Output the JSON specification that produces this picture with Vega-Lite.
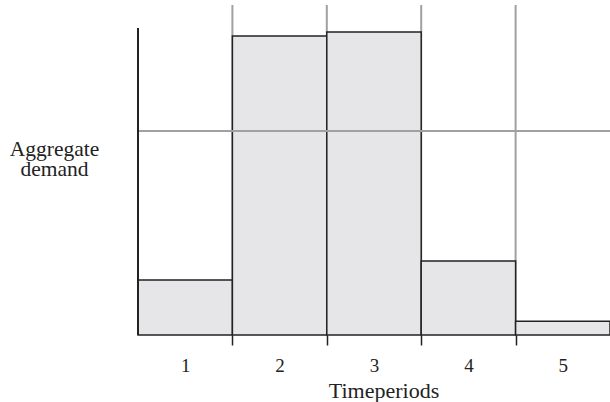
{
  "$schema": "https://vega.github.io/schema/vega-lite/v6.json",
  "width": 472,
  "height": 330,
  "autosize": "none",
  "padding": {"left": 138, "top": 5, "right": 0, "bottom": 67},
  "background": "white",
  "config": {
    "view": {"stroke": null},
    "font": "Liberation Serif",
    "axis": {"grid": false, "labelFont": "Liberation Serif", "titleFont": "Liberation Serif", "titleFontWeight": "normal", "labelColor": "#222", "titleColor": "#222"}
  },
  "datasets": {
    "bars": [
      {"period": "1", "start": 0, "end": 1, "demand": 16.7},
      {"period": "2", "start": 1, "end": 2, "demand": 90.6},
      {"period": "3", "start": 2, "end": 3, "demand": 91.8},
      {"period": "4", "start": 3, "end": 4, "demand": 22.4},
      {"period": "5", "start": 4, "end": 5, "demand": 4.2}
    ],
    "bounds": [{"b": 1}, {"b": 2}, {"b": 3}, {"b": 4}],
    "ref": [{"level": 61.8, "axisX": 0, "axisBottom": 0, "axisTop": 93}]
  },
  "layer": [
    {
      "data": {"name": "bounds"},
      "mark": {"type": "rule", "color": "#a0a0a2", "strokeWidth": 2},
      "encoding": {
        "x": {"field": "b", "type": "quantitative", "scale": {"domain": [0, 5], "nice": false, "zero": false},
              "axis": {"orient": "bottom", "values": [1, 2, 3, 4], "labels": false, "domain": false, "tickSize": 10, "tickColor": "#222", "tickWidth": 1.5, "title": null}},
        "y": {"datum": 0, "type": "quantitative", "scale": {"domain": [0, 100], "nice": false}},
        "y2": {"datum": 100}
      }
    },
    {
      "data": {"name": "bars"},
      "mark": {"type": "rect", "fill": "#e6e6e8", "stroke": "#222", "strokeWidth": 1.5},
      "encoding": {
        "x": {"field": "start", "type": "quantitative",
              "axis": {"orient": "bottom", "values": [0.5, 1.5, 2.5, 3.5, 4.5], "labelExpr": "datum.value + 0.5", "ticks": false, "domain": false,
                       "labelFontSize": 19, "labelBaseline": "alphabetic", "labelPadding": 36,
                       "title": "Timeperiods", "titleFontSize": 22, "titleBaseline": "alphabetic", "titleY": 62, "titleX": 245.5}},
        "x2": {"field": "end"},
        "y": {"field": "demand", "type": "quantitative",
              "axis": {"domain": false, "ticks": false, "labels": false, "title": ["Aggregate", "demand"],
                       "titleAngle": 0, "titleAlign": "center", "titleBaseline": "alphabetic", "titleFontSize": 21.5,
                       "titleLineHeight": 20, "titleX": -84, "titleY": 150}},
        "y2": {"datum": 0}
      }
    },
    {
      "data": {"name": "ref"},
      "mark": {"type": "rule", "color": "#a0a0a2", "strokeWidth": 2},
      "encoding": {"y": {"field": "level", "type": "quantitative"}}
    },
    {
      "data": {"name": "ref"},
      "mark": {"type": "rule", "color": "#222", "strokeWidth": 2},
      "encoding": {
        "x": {"field": "axisX", "type": "quantitative", "axis": null},
        "y": {"field": "axisBottom", "type": "quantitative"},
        "y2": {"field": "axisTop"}
      }
    }
  ],
  "resolve": {"axis": {"x": "independent"}}
}
